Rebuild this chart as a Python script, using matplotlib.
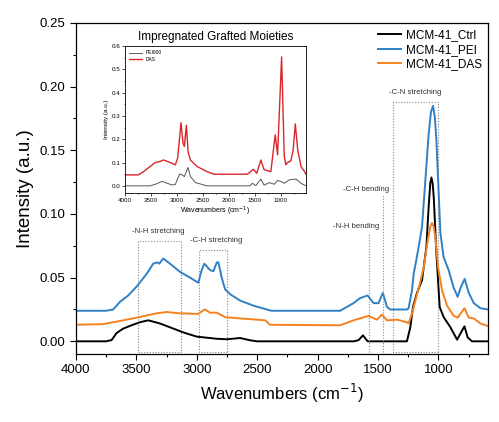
import matplotlib
matplotlib.use('Agg')
import matplotlib.pyplot as plt
from matplotlib.patches import Rectangle
from matplotlib.ticker import MultipleLocator

plt.rcParams['font.family'] = ['Liberation Sans', 'DejaVu Sans']

# ---- main spectra ----
ctrl_wn = [4000, 3750, 3704, 3663, 3608, 3539, 3470, 3401, 3304, 3221, 3111, 3000, 2834,
           2751, 2641, 2558, 2500, 1700, 1660, 1625, 1586, 1270, 1261, 1233, 1211, 1178,
           1136, 1100, 1081, 1068, 1058, 1048, 1039, 1017, 990, 957, 901, 846, 813, 785,
           758, 722, 590]
ctrl_int = [0.0, 0.0, 0.001, 0.0065, 0.010, 0.0126, 0.015, 0.0165, 0.014, 0.011, 0.007, 0.0037,
            0.002, 0.0016, 0.0026, 0.0008, 0.0, 0.0, 0.001, 0.0047, 0.0, 0.0, 0.0, 0.011,
            0.027, 0.038, 0.048, 0.074, 0.106, 0.124, 0.1287, 0.124, 0.113, 0.069, 0.027,
            0.019, 0.011, 0.0013, 0.007, 0.0118, 0.003, 0.0, 0.0]

pei_wn = [4000, 3750, 3691, 3635, 3567, 3497, 3414, 3360, 3326, 3310, 3277, 3221, 3138, 3055,
          2987, 2959, 2937, 2890, 2862, 2834, 2821, 2793, 2766, 2724, 2641, 2531, 2420, 2380,
          1813, 1703, 1647, 1586, 1537, 1496, 1460, 1426, 1399, 1260, 1247, 1219, 1205, 1183,
          1155, 1136, 1108, 1081, 1062, 1045, 1030, 1017, 1003, 984, 957, 916, 874, 841, 813,
          783, 749, 708, 653, 590]
pei_int = [0.024, 0.024, 0.025, 0.031, 0.036, 0.043, 0.053, 0.061, 0.062, 0.061, 0.065, 0.061,
           0.0545, 0.050, 0.046, 0.056, 0.061, 0.056, 0.055, 0.062, 0.062, 0.050, 0.041, 0.037,
           0.032, 0.028, 0.025, 0.024, 0.024, 0.030, 0.034, 0.036, 0.030, 0.030, 0.038, 0.027,
           0.025, 0.025, 0.026, 0.040, 0.053, 0.064, 0.079, 0.090, 0.127, 0.163, 0.180, 0.185,
           0.176, 0.158, 0.127, 0.085, 0.066, 0.056, 0.042, 0.035, 0.043, 0.049, 0.038, 0.030,
           0.026, 0.025]

das_wn = [4000, 3774, 3635, 3497, 3331, 3248, 3138, 2987, 2945, 2931, 2890, 2834, 2766, 2641,
          2434, 2393, 1813, 1703, 1578, 1509, 1468, 1426, 1343, 1261, 1247, 1219, 1191, 1155,
          1122, 1089, 1068, 1053, 1040, 1026, 1003, 970, 929, 874, 841, 785, 749, 708, 653, 590]
das_int = [0.013, 0.0135, 0.016, 0.0186, 0.022, 0.023, 0.022, 0.0215, 0.0244, 0.025, 0.0225,
           0.0225, 0.019, 0.018, 0.0165, 0.013, 0.0126, 0.0165, 0.020, 0.017, 0.021, 0.0165,
           0.017, 0.015, 0.014, 0.022, 0.032, 0.045, 0.058, 0.079, 0.090, 0.093, 0.090, 0.082,
           0.058, 0.040, 0.028, 0.020, 0.0186, 0.026, 0.0186, 0.018, 0.014, 0.012]

# ---- inset spectra ----
pei800_wn = [4000, 3516, 3400, 3290, 3200, 3097, 3032, 2948, 2903, 2858, 2787, 2742, 2645,
             2419, 1600, 1548, 1484, 1387, 1323, 1226, 1129, 1065, 1000, 935, 839, 710, 613, 520]
pei800_int = [0.0, 0.0, 0.008, 0.019, 0.012, 0.004, 0.006, 0.051, 0.047, 0.040, 0.079, 0.040,
              0.014, 0.0, 0.0, 0.011, 0.001, 0.029, 0.003, 0.014, 0.007, 0.023, 0.019, 0.011,
              0.026, 0.029, 0.011, 0.0]

das_ins_wn = [4000, 3742, 3645, 3516, 3419, 3335, 3258, 3129, 3032, 2987, 2948, 2923, 2884,
              2858, 2819, 2787, 2742, 2613, 2419, 2290, 1645, 1529, 1465, 1387, 1323, 1194,
              1110, 1065, 987, 936, 905, 874, 810, 765, 724, 677, 613, 549, 520]
das_ins_int = [0.047, 0.047, 0.061, 0.083, 0.100, 0.104, 0.111, 0.100, 0.090, 0.119, 0.210,
               0.271, 0.183, 0.169, 0.260, 0.147, 0.111, 0.083, 0.061, 0.050, 0.050, 0.071,
               0.054, 0.111, 0.069, 0.061, 0.219, 0.133, 0.553, 0.126, 0.090, 0.100, 0.107,
               0.154, 0.266, 0.154, 0.083, 0.062, 0.050]

labels = ['MCM-41_Ctrl', 'MCM-41_PEI', 'MCM-41_DAS']
colors = ['black', '#2f80c4', '#f5821f']

fig = plt.figure(figsize=(4.99, 4.22), dpi=100)
ax = fig.add_axes([0.152, 0.161, 0.826, 0.7845])

for wn, y, lab, c in zip([ctrl_wn, pei_wn, das_wn], [ctrl_int, pei_int, das_int], labels, colors):
    ax.plot(wn, y, color=c, lw=1.4, label=lab)

ax.set_xlim(4000, 590)
ax.set_ylim(-0.010, 0.25)
ax.xaxis.set_major_locator(MultipleLocator(500))
ax.xaxis.set_minor_locator(MultipleLocator(250))
ax.yaxis.set_major_locator(MultipleLocator(0.05))
ax.yaxis.set_minor_locator(MultipleLocator(0.025))
ax.yaxis.set_major_formatter(matplotlib.ticker.FormatStrFormatter('%.2f'))
ax.tick_params(which='major', direction='out', length=4, width=0.8, labelsize=9.5)
ax.tick_params(which='minor', direction='out', length=2.5, width=0.8)
for s in ax.spines.values():
    s.set_linewidth(0.9)
ax.set_xlabel('Wavenumbers (cm$^{-1}$)', fontsize=12)
ax.set_ylabel('Intensity (a.u.)', fontsize=13.5)

ax.legend(loc='upper right', frameon=False, fontsize=8.5, handlelength=1.9,
          handletextpad=0.4, labelspacing=0.2, borderaxespad=0.15,
          bbox_to_anchor=(1.0, 1.0))

# band annotations
dot = dict(color='#888888', lw=0.8, ls=(0, (1, 1.5)))
ann_fs = 5.6
ax.add_patch(Rectangle((3130, -0.008), 356, 0.087, fill=False, **dot))
ax.text(3320, 0.0835, '-N-H stretching', fontsize=ann_fs, ha='center', va='bottom', color='#333333')
ax.add_patch(Rectangle((2749, -0.008), 232, 0.080, fill=False, **dot))
ax.text(2835, 0.0765, '-C-H stretching', fontsize=ann_fs, ha='center', va='bottom', color='#333333')
ax.plot([1573, 1573], [-0.008, 0.085], **dot)
ax.text(1680, 0.0875, '-N-H bending', fontsize=ann_fs, ha='center', va='bottom', color='#333333')
ax.plot([1457, 1457], [-0.008, 0.115], **dot)
ax.text(1600, 0.1165, '-C-H bending', fontsize=ann_fs, ha='center', va='bottom', color='#333333')
ax.add_patch(Rectangle((1001, -0.008), 373, 0.196, fill=False, **dot))
ax.text(1195, 0.1925, '-C-N stretching', fontsize=ann_fs, ha='center', va='bottom', color='#333333')

# inset
ins = fig.add_axes([0.2505, 0.543, 0.3625, 0.348])
ins.plot(pei800_wn, pei800_int, color='#555555', lw=0.7, label='PEI800')
ins.plot(das_ins_wn, das_ins_int, color='#d9262b', lw=1.0, label='DAS')
ins.set_xlim(4000, 520)
ins.set_ylim(-0.03, 0.6)
ins.xaxis.set_major_locator(MultipleLocator(500))
ins.xaxis.set_minor_locator(MultipleLocator(250))
ins.yaxis.set_major_locator(MultipleLocator(0.1))
ins.yaxis.set_minor_locator(MultipleLocator(0.05))
ins.tick_params(which='major', direction='out', length=2, width=0.5, labelsize=4.5, pad=1.5)
ins.tick_params(which='minor', direction='out', length=1, width=0.5)
for s in ins.spines.values():
    s.set_linewidth(0.6)
ins.set_xlabel('Wavenumbers (cm$^{-1}$)', fontsize=5, labelpad=1.5)
ins.set_ylabel('Intensity (a.u.)', fontsize=4.5, labelpad=1.5)
ins.set_title('Impregnated Grafted Moieties', fontsize=8.5, pad=4)
ins.legend(loc='upper left', frameon=False, fontsize=3.5, handlelength=2.5,
           labelspacing=0.3, borderaxespad=0.5)

fig.savefig('out.png', dpi=100)
